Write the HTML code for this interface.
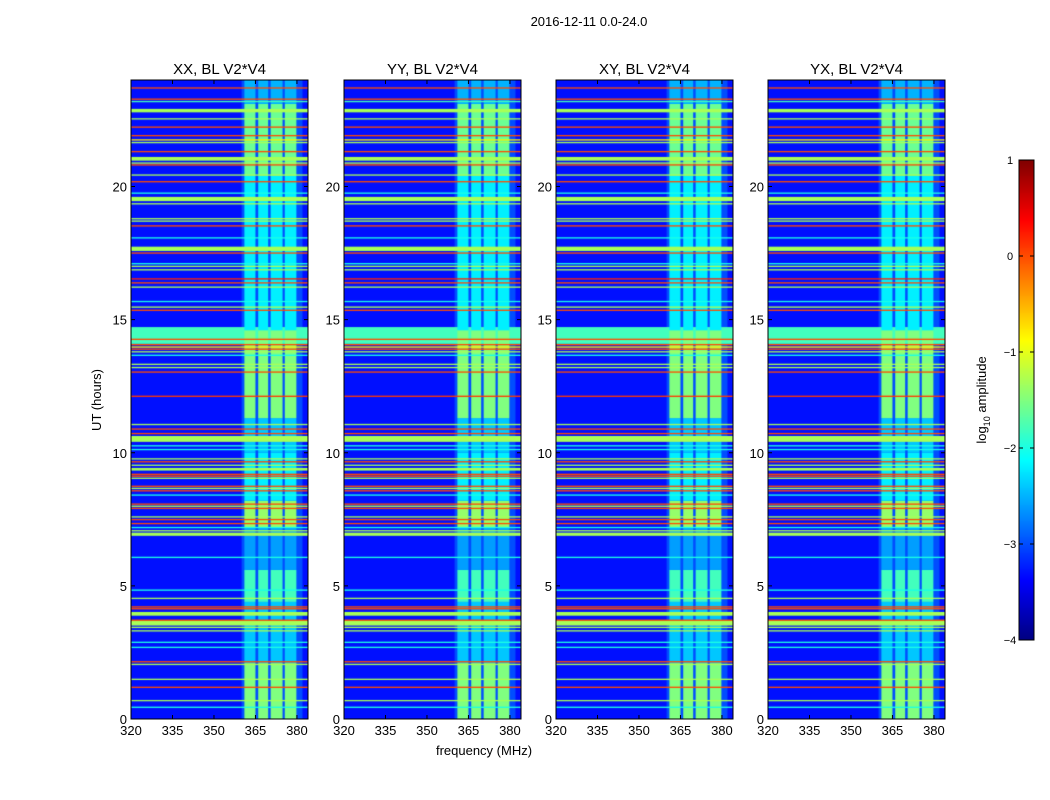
<!DOCTYPE html>
<html><head><meta charset="utf-8">
<style>
body{margin:0;background:#fff;width:1050px;height:800px;position:relative;overflow:hidden;font-family:"Liberation Sans",sans-serif}
canvas{position:absolute}
svg{position:absolute;left:0;top:0}
text{font-family:"Liberation Sans",sans-serif}
</style></head>
<body>
<canvas id="c0" width="177" height="639" style="left:131px;top:80px"></canvas>
<canvas id="c1" width="177" height="639" style="left:344px;top:80px"></canvas>
<canvas id="c2" width="177" height="639" style="left:556px;top:80px"></canvas>
<canvas id="c3" width="177" height="639" style="left:768px;top:80px"></canvas>
<canvas id="cb" width="15" height="480" style="left:1019px;top:160px"></canvas>
<svg id="ax" width="1050" height="800"></svg>
<script>
// ---- data ----
const panelTitles = ["XX, BL V2*V4","YY, BL V2*V4","XY, BL V2*V4","YX, BL V2*V4"];
const xTicks = [320,335,350,365,380];
const yTicks = [0,5,10,15,20];
const cbTicks = [1,0,-1,-2,-3,-4];
const bgLevel = -3.3;
// sub-band frequency ranges (MHz)
const subBands = [[361,365],[366,369.6],[370.5,374.8],[375.6,379.8]];
// band activity segments: [startUT, endUT, log amplitude]
const bandSegs = [[0,2.1,-1.5],[2.1,4.4,-2.4],[4.4,5.6,-1.8],[5.6,7.2,-2.6],[7.2,8.2,-1.4],[8.2,10,-2.2],[10,11.3,-2.4],[11.3,14.6,-1.5],[14.6,20.4,-2.2],[20.4,23.1,-1.6],[23.1,24,-2.5]];
// wide broadband band: [start,end,level]
const wideBands = [[14.09,14.72,-1.8]];
// horizontal RFI lines: UT hours
const lineUT = [23.70,23.28,23.19,22.85,22.54,22.23,21.91,21.75,21.65,21.31,21.04,20.88,20.81,20.43,20.18,19.75,19.53,19.35,18.79,18.70,18.52,18.07,17.66,17.50,17.10,17.00,16.87,16.53,16.38,16.22,15.68,15.47,15.35,14.26,14.06,13.97,13.89,13.79,13.66,13.32,13.20,13.03,12.12,
11.06,10.89,10.72,10.52,10.26,10.12,9.77,9.66,9.53,9.38,9.19,9.12,9.04,8.74,8.66,8.57,8.41,8.07,7.99,7.91,7.59,7.49,7.34,7.19,7.07,6.94,6.07,4.84,4.53,4.21,4.14,3.95,3.61,3.71,3.44,3.31,2.88,2.69,2.15,2.05,1.49,1.19,0.69,0.44];
const lineLevel = [0,0,-1.8,-1.3,-1.3,0,0,-0.8,-1.3,0,-1.3,-1.3,0,-1.3,0,-2,-1.3,-1.3,-1.3,-1.3,0,-2,-1.3,0,-2,-1.3,-1.3,0.2,0,-1.3,-2,-1.3,0,0,0,-0.8,0,-1.3,-2,-1.3,-1.3,0,0.1,
-1.3,0,0,-1.3,-2,-2,-1.3,0,-1.3,-1.3,0,0,-1.3,0,-1.3,0,-2,0,-1.3,0,-1.3,0,0,-2,-1.3,-1.3,-2,-2,-1.3,0,0,-1.3,-1.3,0,-1.3,-1.3,-2,-2,0,-1.3,-1.3,0,-1.3,-2];
const lineWidth = [0.05,0.05,0.05,0.13,0.05,0.05,0.05,0.05,0.05,0.05,0.14,0.05,0.05,0.05,0.05,0.05,0.16,0.05,0.05,0.05,0.05,0.05,0.16,0.05,0.05,0.05,0.05,0.05,0.05,0.05,0.05,0.05,0.05,0.05,0.05,0.05,0.05,0.05,0.05,0.05,0.05,0.05,0.05,
0.05,0.05,0.05,0.22,0.05,0.05,0.05,0.05,0.05,0.1,0.05,0.05,0.05,0.05,0.05,0.05,0.05,0.05,0.05,0.05,0.05,0.05,0.05,0.05,0.05,0.12,0.05,0.05,0.05,0.05,0.05,0.14,0.2,0.05,0.05,0.05,0.05,0.05,0.05,0.05,0.05,0.05,0.05,0.05];

// ---- scales ----
const W=177,H=639,fMin=320,fMax=384,tMax=24;
const xs=f=>(f-fMin)/(fMax-fMin)*W;
const ys=t=>H-t/tMax*H;
function jet(v){const t=Math.max(0,Math.min(1,(v+4)/5));
 const r=Math.max(0,Math.min(1,1.5-Math.abs(4*t-3))),g=Math.max(0,Math.min(1,1.5-Math.abs(4*t-2))),b=Math.max(0,Math.min(1,1.5-Math.abs(4*t-1)));
 return `rgb(${Math.round(r*255)},${Math.round(g*255)},${Math.round(b*255)})`;}

for(let p=0;p<4;p++){
 const ctx=document.getElementById('c'+p).getContext('2d');
 ctx.fillStyle=jet(bgLevel);ctx.fillRect(0,0,W,H);
 ctx.fillStyle=jet(-3.0);ctx.fillRect(xs(360),0,xs(382)-xs(360),H);
 wideBands.forEach(b=>{ctx.fillStyle=jet(b[2]);ctx.fillRect(0,ys(b[1]),W,ys(b[0])-ys(b[1]));});
 bandSegs.forEach(s=>{subBands.forEach(sb=>{ctx.fillStyle=jet(s[2]);ctx.fillRect(xs(sb[0]),ys(s[1]),xs(sb[1])-xs(sb[0]),ys(s[0])-ys(s[1]));});});
 lineUT.forEach((u,i)=>{const w=lineWidth[i];ctx.fillStyle=jet(lineLevel[i]);ctx.fillRect(0,ys(u+w/2),W,Math.max(1,ys(u-w/2)-ys(u+w/2)));});
}
const cb=document.getElementById('cb').getContext('2d');
for(let y=0;y<480;y++){cb.fillStyle=jet(1-y/480*5);cb.fillRect(0,y,15,1);}

// ---- axes ----
const svg=document.getElementById('ax');const NS='http://www.w3.org/2000/svg';
function mk(tag,attrs,txt){const e=document.createElementNS(NS,tag);for(const k in attrs)e.setAttribute(k,attrs[k]);if(txt!==undefined)e.textContent=txt;svg.appendChild(e);return e;}
const lefts=[131,344,556,768],top0=80;
const t0=mk('text',{x:589,y:26,'text-anchor':'middle','font-size':13},'2016-12-11 0.0-24.0');

lefts.forEach((L,p)=>{
 const r=mk('rect',{x:L,y:top0,width:W,height:H,fill:'none',stroke:'#000','stroke-width':1});
 
 const tt=mk('text',{x:L+W/2,y:74,'text-anchor':'middle','font-size':15},panelTitles[p]);
 
 xTicks.forEach(f=>{const x=L+xs(f);
  mk('line',{x1:x,x2:x,y1:top0+H,y2:top0+H-4,stroke:'#000'});mk('line',{x1:x,x2:x,y1:top0,y2:top0+4,stroke:'#000'});
  const l=mk('text',{x:x,y:top0+H+16,'text-anchor':'middle','font-size':13},String(f));
  });
 yTicks.forEach(t=>{const y=top0+ys(t);
  mk('line',{x1:L,x2:L+4,y1:y,y2:y,stroke:'#000'});mk('line',{x1:L+W,x2:L+W-4,y1:y,y2:y,stroke:'#000'});
  const l=mk('text',{x:L-4,y:y+5,'text-anchor':'end','font-size':13},String(t));
  });
});
const xl=mk('text',{x:484,y:755,'text-anchor':'middle','font-size':13},'frequency (MHz)');

const yl=mk('text',{x:0,y:0,'text-anchor':'middle','font-size':13,transform:'translate(101,400) rotate(-90)'},'UT (hours)');

mk('rect',{x:1019,y:160,width:15,height:480,fill:'none',stroke:'#000'});
cbTicks.forEach((v,i)=>{const y=160+i*96;
 mk('line',{x1:1019,x2:1023,y1:y,y2:y,stroke:'#000'});mk('line',{x1:1034,x2:1030,y1:y,y2:y,stroke:'#000'});
 const l=mk('text',{x:1010,y:y+4,'text-anchor':'middle','font-size':11},v<0?'\u2212'+Math.abs(v):String(v));
 });
const cl=mk('text',{x:0,y:0,'text-anchor':'middle','font-size':13,transform:'translate(986,400) rotate(-90)'});

cl.innerHTML='log<tspan font-size="9" dy="4">10</tspan><tspan dy="-4"> amplitude</tspan>';
</script>
</body></html>
